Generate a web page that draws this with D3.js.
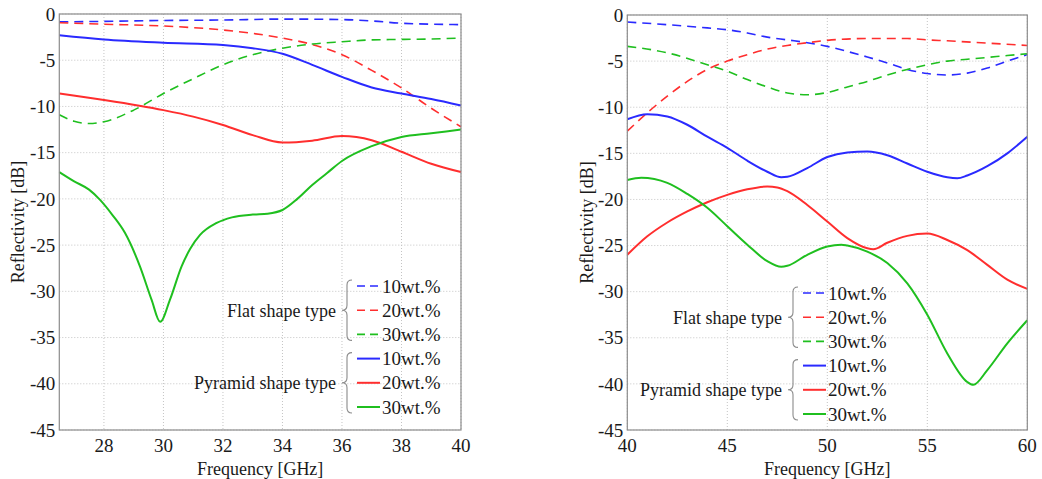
<!DOCTYPE html>
<html>
<head>
<meta charset="utf-8">
<script src="https://cdn.jsdelivr.net/npm/d3@7"></script>
<style>
  body { margin: 0; background: #fff; }
  text { font-family: "Liberation Serif", "Times New Roman", serif; fill: #1a1a1a; }
</style>
</head>
<body>
<svg id="chart" width="1042" height="479"></svg>
<script>
// values: [frequency GHz, reflectivity dB]
const leftFlat10 = [[26.5,-0.85],[28,-0.8],[30,-0.7],[32,-0.65],[34,-0.55],[36,-0.6],[37,-0.75],[38,-1.0],[39,-1.1],[40,-1.15]];
const leftFlat20 = [[26.5,-0.95],[28,-1.1],[30,-1.3],[32,-1.73],[33,-2.1],[34,-2.6],[35,-3.3],[36,-4.4],[37,-6.1],[38,-8.0],[39,-10.2],[40,-12.2]];
const leftFlat30 = [[26.5,-10.9],[27,-11.6],[27.5,-11.85],[28,-11.65],[29,-10.4],[30,-8.6],[31,-7.0],[32,-5.5],[33,-4.4],[34,-3.7],[35,-3.25],[36,-3.0],[37,-2.8],[38,-2.75],[39,-2.7],[40,-2.6]];
const leftPyr10 = [[26.5,-2.3],[28,-2.75],[30,-3.1],[32,-3.35],[33,-3.7],[34,-4.3],[35,-5.5],[36,-6.8],[37,-7.95],[38,-8.6],[39,-9.2],[40,-9.9]];
const leftPyr20 = [[26.5,-8.6],[28,-9.3],[30,-10.4],[31,-11.1],[32,-12.0],[33,-13.1],[34,-13.9],[35,-13.7],[36,-13.2],[37,-13.65],[38,-14.9],[39,-16.2],[40,-17.1]];
const leftPyr30 = [[26.5,-17.1],[27,-18.1],[27.5,-19.0],[27.87,-20.1],[28.3,-21.8],[28.71,-23.7],[29.21,-27.3],[29.6,-30.9],[29.89,-33.3],[30.22,-30.9],[30.61,-27.3],[30.9,-25.4],[31.23,-23.9],[31.79,-22.6],[32.3,-22.0],[33,-21.7],[33.5,-21.6],[34,-21.2],[34.5,-20.0],[35,-18.5],[35.5,-17.2],[36,-15.9],[37,-14.3],[38,-13.3],[39,-12.9],[40,-12.5]];

const rightFlat10 = [[40,-0.76],[42,-1.05],[44,-1.4],[45,-1.6],[46,-1.95],[47,-2.4],[48,-2.7],[49,-3.0],[50,-3.4],[51,-3.95],[52,-4.55],[53,-5.2],[54,-5.9],[55,-6.35],[56,-6.5],[57,-6.3],[58,-5.75],[59,-5.0],[60,-4.3]];
const rightFlat20 = [[40,-12.6],[41,-10.6],[42,-8.8],[43,-7.2],[44,-5.9],[45,-5.0],[46,-4.3],[47,-3.7],[48,-3.3],[49,-3.0],[50,-2.75],[52,-2.55],[54,-2.55],[55,-2.7],[56,-2.8],[58,-3.05],[60,-3.3]];
const rightFlat30 = [[40,-3.4],[42,-4.1],[44,-5.4],[45,-6.1],[46,-7.0],[47,-7.8],[48,-8.45],[49,-8.65],[50,-8.4],[51,-7.8],[52,-7.2],[53,-6.5],[54,-5.9],[55,-5.4],[56,-5.0],[57,-4.8],[58,-4.6],[59,-4.4],[60,-4.2]];
const rightPyr10 = [[40,-11.3],[41,-10.75],[42,-11.0],[43,-11.9],[44,-13.2],[45,-14.4],[46,-15.8],[47,-17.0],[47.7,-17.6],[48,-17.55],[49,-16.6],[50,-15.4],[51,-14.9],[52,-14.8],[53,-15.2],[54,-16.1],[55,-17.0],[56,-17.6],[56.5,-17.7],[57,-17.4],[58,-16.4],[59,-15.0],[60,-13.2]];
const rightPyr20 = [[40,-26.0],[41,-24.0],[42,-22.5],[43,-21.3],[44,-20.3],[45,-19.5],[46,-18.9],[47,-18.6],[47.5,-18.7],[48,-19.1],[49,-20.6],[50,-22.4],[51,-24.2],[52,-25.3],[52.3,-25.4],[53,-24.7],[54,-23.95],[55,-23.7],[56,-24.4],[57,-25.5],[58,-27.1],[59,-28.7],[60,-29.7]];
const rightPyr30 = [[40,-17.9],[40.7,-17.65],[42,-18.2],[43,-19.4],[44,-20.9],[45,-22.9],[46,-24.9],[47,-26.7],[47.7,-27.3],[48,-27.2],[49,-26.0],[50,-25.1],[50.7,-24.9],[51,-25.0],[52,-25.65],[53,-26.9],[54,-29.1],[55,-32.5],[56,-36.7],[57,-39.8],[57.3,-40.1],[58,-38.5],[59,-35.6],[60,-33.1]];

const yTicks = [0, -5, -10, -15, -20, -25, -30, -35, -40, -45];
const leftXTicks = [28, 30, 32, 34, 36, 38, 40];
const rightXTicks = [40, 45, 50, 55, 60];
const legendLabels = ["10wt.%", "20wt.%", "30wt.%"];
const groupLabels = ["Flat shape type", "Pyramid shape type"];

const colors = ["#2a2aff", "#ff2e2e", "#1fbf1f"];

const svg = d3.select("#chart");
svg.append("rect").attr("width", 1042).attr("height", 479).attr("fill", "#fff");

function drawPanel(cfg) {
  const g = svg.append("g").attr("transform", "translate(" + cfg.left + "," + cfg.top + ")");
  const x = d3.scaleLinear().domain(cfg.xDomain).range([0, cfg.width]);
  const y = d3.scaleLinear().domain([0, -45]).range([0, cfg.height]);

  // grid
  g.selectAll(".gx").data(cfg.xTicks).join("line")
    .attr("x1", d => x(d)).attr("x2", d => x(d)).attr("y1", 0).attr("y2", cfg.height)
    .attr("stroke", "#c4c4c4").attr("stroke-width", 1).attr("stroke-dasharray", "1,2");
  g.selectAll(".gy").data(yTicks).join("line")
    .attr("x1", 0).attr("x2", cfg.width).attr("y1", d => y(d)).attr("y2", d => y(d))
    .attr("stroke", "#c4c4c4").attr("stroke-width", 1).attr("stroke-dasharray", "1,2");

  // tick labels
  g.selectAll(".tx").data(cfg.xTicks).join("text")
    .attr("x", d => x(d)).attr("y", cfg.height + 22)
    .attr("text-anchor", "middle").style("font-size", "19px").text(d => d);
  g.selectAll(".ty").data(yTicks).join("text")
    .attr("x", -4).attr("y", d => y(d)).attr("dy", "0.35em")
    .attr("text-anchor", "end").style("font-size", "19px").text(d => d);

  // axis titles
  g.append("text").attr("x", cfg.width / 2).attr("y", cfg.height + 45)
    .attr("text-anchor", "middle").style("font-size", "18px").text("Frequency [GHz]");
  g.append("text")
    .attr("transform", "translate(" + (cfg.yLabelX - cfg.left) + "," + (cfg.height / 2) + ") rotate(-90)")
    .attr("dy", "0.35em").attr("text-anchor", "middle").style("font-size", "18px").text("Reflectivity [dB]");

  const line = d3.line().x(d => x(d[0])).y(d => y(d[1])).curve(d3.curveMonotoneX);

  cfg.flat.forEach((s, i) => {
    g.append("path").datum(s).attr("d", line).attr("fill", "none")
      .attr("stroke", colors[i]).attr("stroke-width", 1.6).attr("stroke-dasharray", "9,6");
  });
  cfg.pyramid.forEach((s, i) => {
    g.append("path").datum(s).attr("d", line).attr("fill", "none")
      .attr("stroke", colors[i]).attr("stroke-width", 2);
  });

  // frame
  g.append("rect").attr("width", cfg.width).attr("height", cfg.height)
    .attr("fill", "none").attr("stroke", "#8c8c8c").attr("stroke-width", 1.2);

  // legend
  const lg = svg.append("g");
  const step = 24.2;
  groupLabels.forEach((label, k) => {
    const rows = [0, 1, 2].map(i => cfg.legendY + (k * 3 + i) * step);
    rows.forEach((ry, i) => {
      lg.append("line").attr("x1", cfg.legendX).attr("x2", cfg.legendX + 23)
        .attr("y1", ry).attr("y2", ry)
        .attr("stroke", colors[i]).attr("stroke-width", k === 0 ? 1.6 : 2)
        .attr("stroke-dasharray", k === 0 ? "8,5" : null);
      lg.append("text").attr("x", cfg.legendX + 25).attr("y", ry).attr("dy", "0.35em")
        .style("font-size", "19px").text(legendLabels[i]);
    });
    const y0 = rows[0] - 6, y1 = rows[2] + 6, ym = (y0 + y1) / 2;
    const xr = cfg.legendX - 5, xm = cfg.legendX - 10, xl = cfg.legendX - 15, r = 5;
    lg.append("path")
      .attr("d", `M${xr},${y0} Q${xm},${y0} ${xm},${y0 + r} L${xm},${ym - r} Q${xm},${ym} ${xl},${ym} Q${xm},${ym} ${xm},${ym + r} L${xm},${y1 - r} Q${xm},${y1} ${xr},${y1}`)
      .attr("fill", "none").attr("stroke", "#8a8a8a").attr("stroke-width", 1.1);
    lg.append("text").attr("x", cfg.legendX - 21).attr("y", ym).attr("dy", "0.35em")
      .attr("text-anchor", "end").style("font-size", "18px").text(label);
  });
}

drawPanel({
  left: 59.3, top: 14, width: 401.7, height: 416, yLabelX: 18,
  xDomain: [26.5, 40], xTicks: leftXTicks,
  flat: [leftFlat10, leftFlat20, leftFlat30],
  pyramid: [leftPyr10, leftPyr20, leftPyr30],
  legendX: 357, legendY: 286
});

drawPanel({
  left: 627.3, top: 15, width: 400, height: 415, yLabelX: 587,
  xDomain: [40, 60], xTicks: rightXTicks,
  flat: [rightFlat10, rightFlat20, rightFlat30],
  pyramid: [rightPyr10, rightPyr20, rightPyr30],
  legendX: 803, legendY: 293
});
</script>
</body>
</html>
